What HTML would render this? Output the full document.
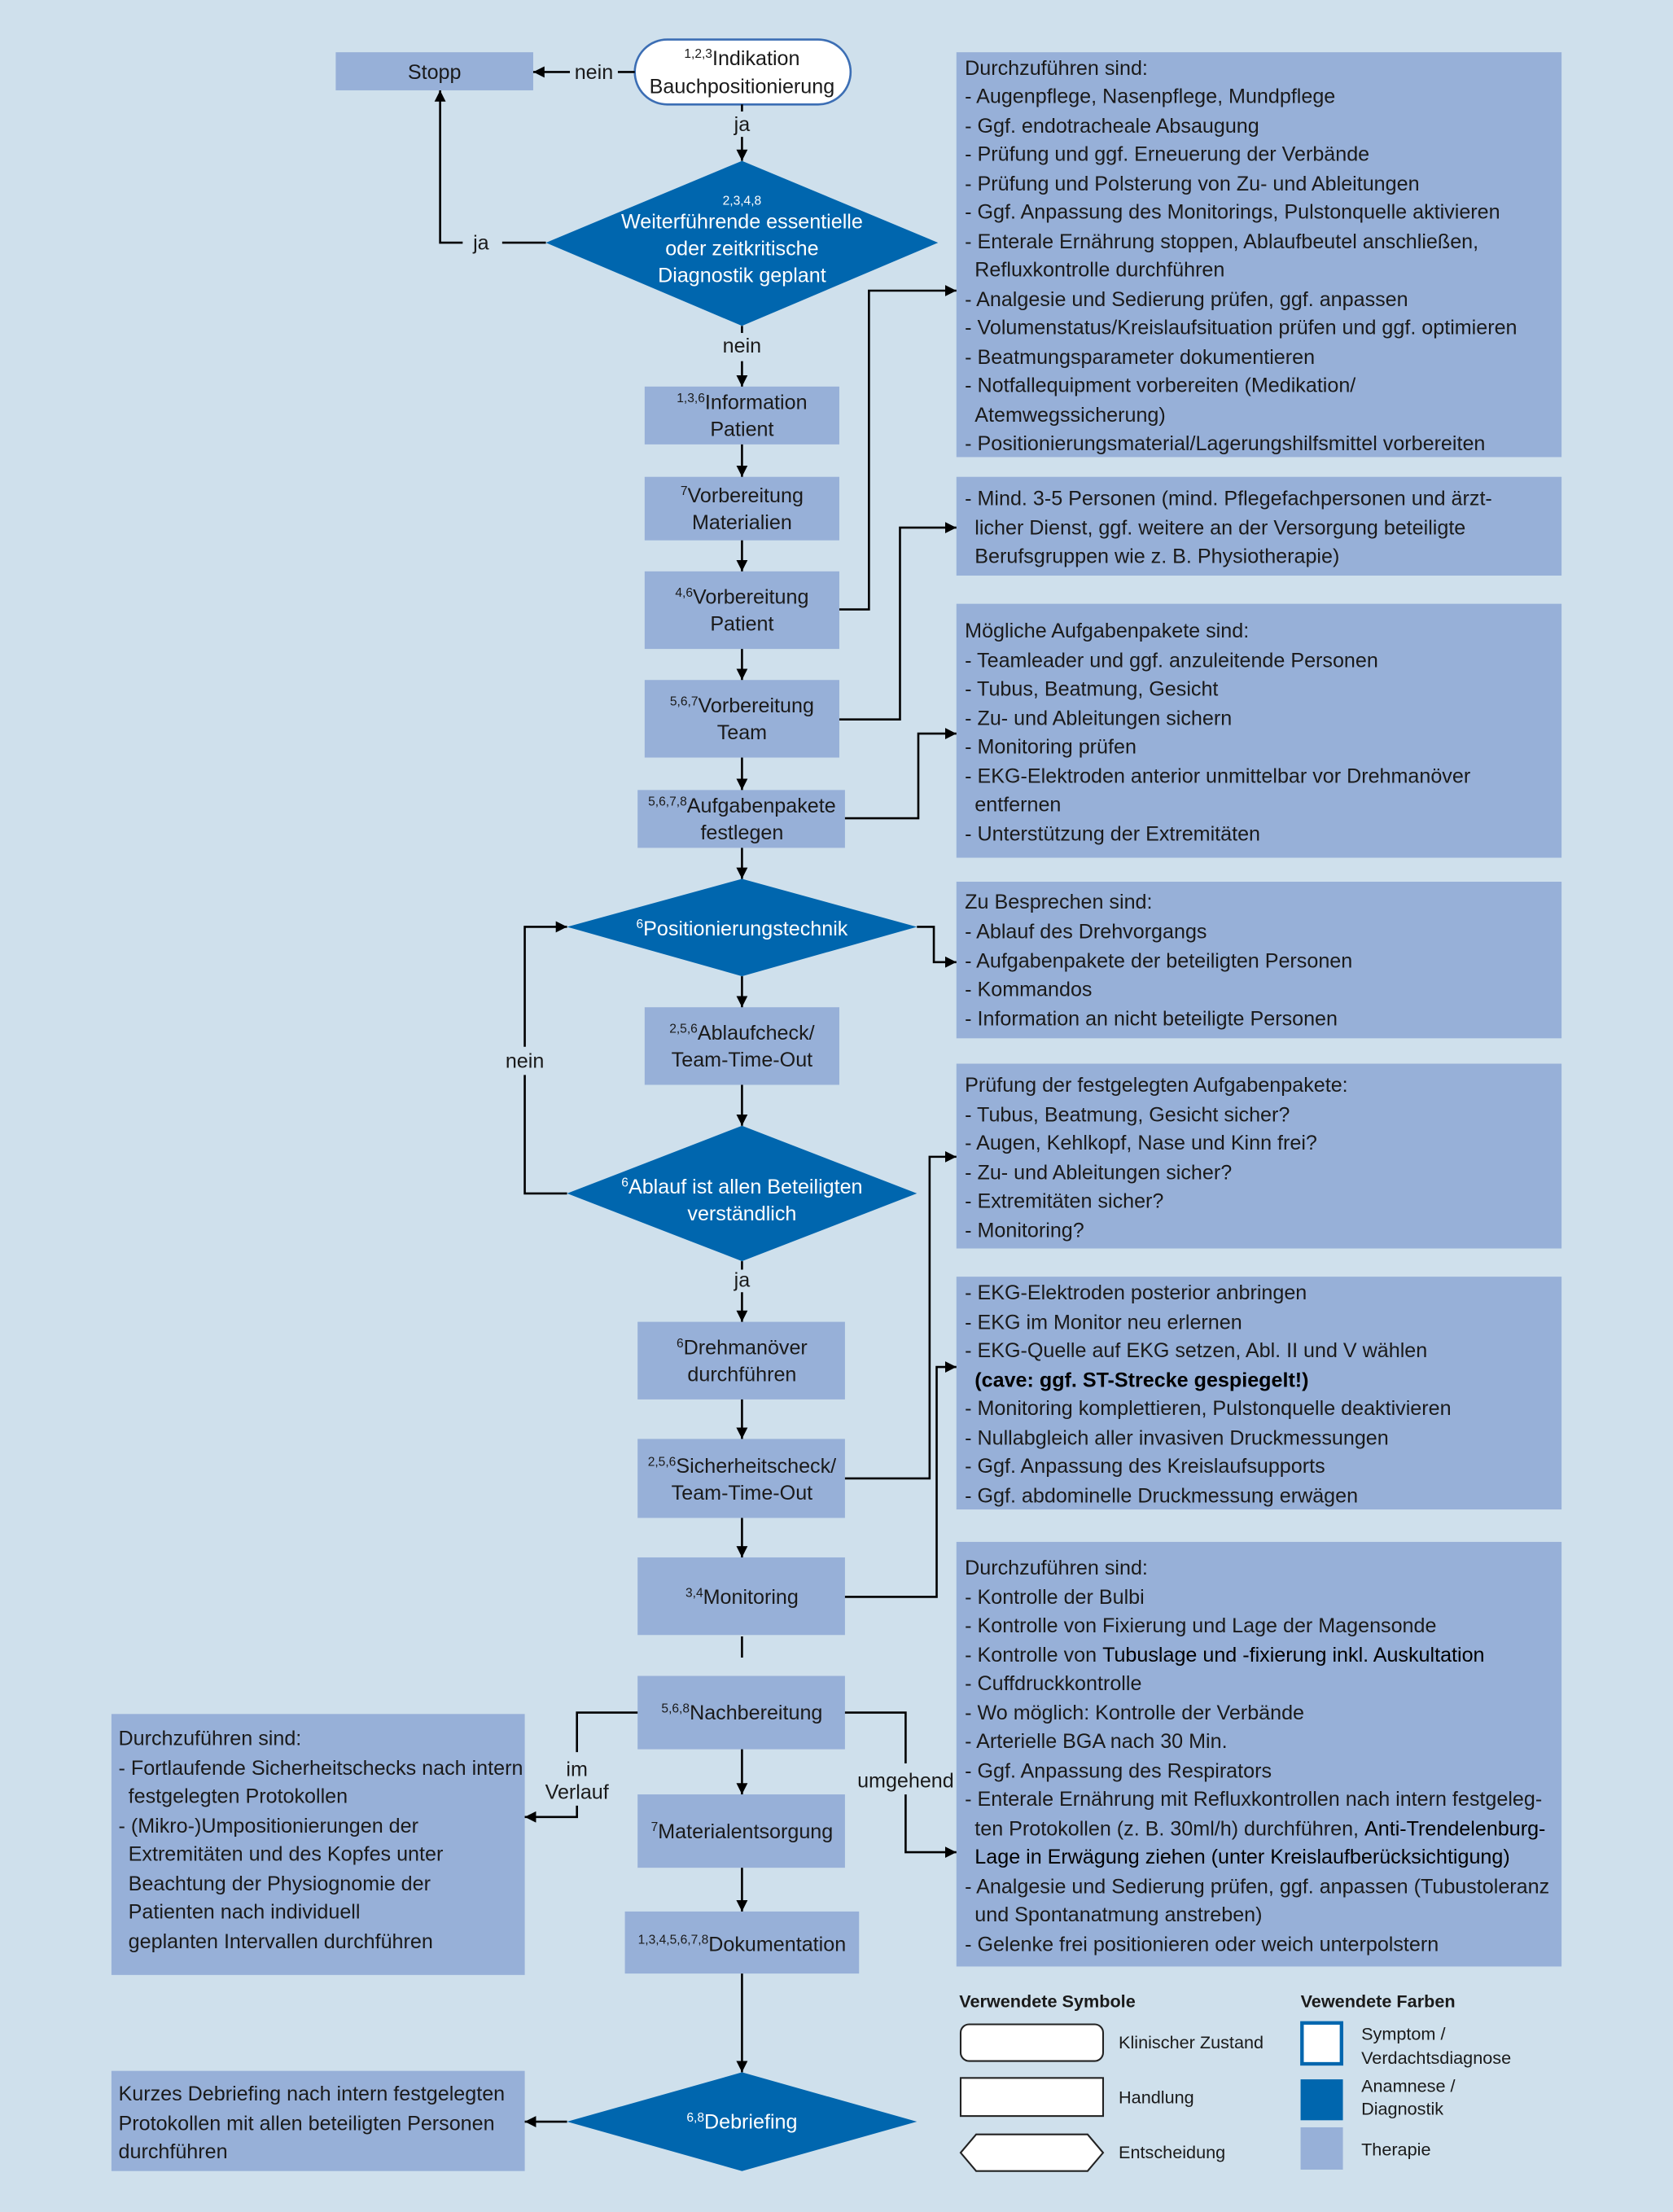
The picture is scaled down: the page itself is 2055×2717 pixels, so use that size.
<!DOCTYPE html>
<html><head><meta charset="utf-8"><style>
html,body{margin:0;padding:0;background:#cfe0ec;}
svg{display:block;}
text{font-family:"Liberation Sans Narrow","Liberation Sans",sans-serif;font-size:14.5px;fill:#1a1a1a;}
.c{text-anchor:middle;}
.w{fill:#fff;}
.b{fill:#000;font-weight:bold;}
.s{font-size:9px;}
.lg{font-size:12.5px;}
.t{fill:#97b0d8;}
.d{fill:#0066ae;}
.ln{stroke:#000;stroke-width:1.5;fill:none;}
</style></head><body>
<svg width="2055" height="2717" viewBox="0 0 1186 1568" xmlns="http://www.w3.org/2000/svg">
<defs><marker id="a" viewBox="0 0 10 10" refX="10" refY="5" markerWidth="8" markerHeight="8" orient="auto" markerUnits="userSpaceOnUse"><path d="M0,0L10,5L0,10z" fill="#000"/></marker></defs>
<rect width="1186" height="1568" fill="#cfe0ec"/>

<!-- right boxes -->
<rect class="t" x="678" y="37" width="429" height="287"/>
<rect class="t" x="678" y="338" width="429" height="70"/>
<rect class="t" x="678" y="428" width="429" height="180"/>
<rect class="t" x="678" y="625" width="429" height="111"/>
<rect class="t" x="678" y="754" width="429" height="131"/>
<rect class="t" x="678" y="905" width="429" height="165"/>
<rect class="t" x="678" y="1093" width="429" height="301"/>
<rect class="t" x="79" y="1215" width="293" height="185"/>
<rect class="t" x="79" y="1468" width="293" height="71"/>

<g>
<text x="684" y="53">Durchzuführen sind:</text>
<text x="684" y="73">- Augenpflege, Nasenpflege, Mundpflege</text>
<text x="684" y="94">- Ggf. endotracheale Absaugung</text>
<text x="684" y="114">- Prüfung und ggf. Erneuerung der Verbände</text>
<text x="684" y="135">- Prüfung und Polsterung von Zu- und Ableitungen</text>
<text x="684" y="155">- Ggf. Anpassung des Monitorings, Pulstonquelle aktivieren</text>
<text x="684" y="176">- Enterale Ernährung stoppen, Ablaufbeutel anschließen,</text>
<text x="691" y="196">Refluxkontrolle durchführen</text>
<text x="684" y="217">- Analgesie und Sedierung prüfen, ggf. anpassen</text>
<text x="684" y="237">- Volumenstatus/Kreislaufsituation prüfen und ggf. optimieren</text>
<text x="684" y="258">- Beatmungsparameter dokumentieren</text>
<text x="684" y="278">- Notfallequipment vorbereiten (Medikation/</text>
<text x="691" y="299">Atemwegssicherung)</text>
<text x="684" y="319">- Positionierungsmaterial/Lagerungshilfsmittel vorbereiten</text>

<text x="684" y="358">- Mind. 3-5 Personen (mind. Pflegefachpersonen und ärzt-</text>
<text x="691" y="379">licher Dienst, ggf. weitere an der Versorgung beteiligte</text>
<text x="691" y="399">Berufsgruppen wie z. B. Physiotherapie)</text>

<text x="684" y="452">Mögliche Aufgabenpakete sind:</text>
<text x="684" y="473">- Teamleader und ggf. anzuleitende Personen</text>
<text x="684" y="493">- Tubus, Beatmung, Gesicht</text>
<text x="684" y="514">- Zu- und Ableitungen sichern</text>
<text x="684" y="534">- Monitoring prüfen</text>
<text x="684" y="555">- EKG-Elektroden anterior unmittelbar vor Drehmanöver</text>
<text x="691" y="575">entfernen</text>
<text x="684" y="596">- Unterstützung der Extremitäten</text>

<text x="684" y="644">Zu Besprechen sind:</text>
<text x="684" y="665">- Ablauf des Drehvorgangs</text>
<text x="684" y="686">- Aufgabenpakete der beteiligten Personen</text>
<text x="684" y="706">- Kommandos</text>
<text x="684" y="727">- Information an nicht beteiligte Personen</text>

<text x="684" y="774">Prüfung der festgelegten Aufgabenpakete:</text>
<text x="684" y="795">- Tubus, Beatmung, Gesicht sicher?</text>
<text x="684" y="815">- Augen, Kehlkopf, Nase und Kinn frei?</text>
<text x="684" y="836">- Zu- und Ableitungen sicher?</text>
<text x="684" y="856">- Extremitäten sicher?</text>
<text x="684" y="877">- Monitoring?</text>

<text x="684" y="921">- EKG-Elektroden posterior anbringen</text>
<text x="684" y="942">- EKG im Monitor neu erlernen</text>
<text x="684" y="962">- EKG-Quelle auf EKG setzen, Abl. II und V wählen</text>
<text x="691" y="983" class="b">(cave: ggf. ST-Strecke gespiegelt!)</text>
<text x="684" y="1003">- Monitoring komplettieren, Pulstonquelle deaktivieren</text>
<text x="684" y="1024">- Nullabgleich aller invasiven Druckmessungen</text>
<text x="684" y="1044">- Ggf. Anpassung des Kreislaufsupports</text>
<text x="684" y="1065">- Ggf. abdominelle Druckmessung erwägen</text>

<text x="684" y="1116">Durchzuführen sind:</text>
<text x="684" y="1137">- Kontrolle der Bulbi</text>
<text x="684" y="1157">- Kontrolle von Fixierung und Lage der Magensonde</text>
<text x="684" y="1178">- Kontrolle von <tspan style="fill:#000">Tubuslage und -fixierung inkl. Auskultation</tspan></text>
<text x="684" y="1198">- Cuffdruckkontrolle</text>
<text x="684" y="1219">- Wo möglich: Kontrolle der Verbände</text>
<text x="684" y="1239">- Arterielle BGA nach 30 Min.</text>
<text x="684" y="1260">- Ggf. Anpassung des Respirators</text>
<text x="684" y="1280">- Enterale Ernährung mit Refluxkontrollen nach intern festgeleg-</text>
<text x="691" y="1301">ten Protokollen (z. B. 30ml/h) durchführen, <tspan style="fill:#000">Anti-Trendelenburg-</tspan></text>
<text x="691" y="1321" style="fill:#000">Lage in Erwägung ziehen (unter Kreislaufberücksichtigung)</text>
<text x="684" y="1342">- Analgesie und Sedierung prüfen, ggf. anpassen (Tubustoleranz</text>
<text x="691" y="1362">und Spontanatmung anstreben)</text>
<text x="684" y="1383">- Gelenke frei positionieren oder weich unterpolstern</text>

<text x="84" y="1237">Durchzuführen sind:</text>
<text x="84" y="1258">- Fortlaufende Sicherheitschecks nach intern</text>
<text x="91" y="1278">festgelegten Protokollen</text>
<text x="84" y="1299">- (Mikro-)Umpositionierungen der</text>
<text x="91" y="1319">Extremitäten und des Kopfes unter</text>
<text x="91" y="1340">Beachtung der Physiognomie der</text>
<text x="91" y="1360">Patienten nach individuell</text>
<text x="91" y="1381">geplanten Intervallen durchführen</text>

<text x="84" y="1489">Kurzes Debriefing nach intern festgelegten</text>
<text x="84" y="1510">Protokollen mit allen beteiligten Personen</text>
<text x="84" y="1530">durchführen</text>
</g>

<!-- center nodes -->
<rect class="t" x="238" y="37" width="140" height="27"/>
<text class="c" x="308" y="56">Stopp</text>
<rect x="450" y="28" width="153" height="46" rx="23" fill="#fff" stroke="#3c6eb4" stroke-width="1.5"/>
<text class="c" x="526" y="46"><tspan class="s" dy="-5">1,2,3</tspan><tspan dy="5">Indikation</tspan></text>
<text class="c" x="526" y="66">Bauchpositionierung</text>

<polygon class="d" points="526,114 665,172 526,231 387,172"/>
<text class="c w s" x="526" y="145">2,3,4,8</text>
<text class="c w" x="526" y="162">Weiterführende essentielle</text>
<text class="c w" x="526" y="181">oder zeitkritische</text>
<text class="c w" x="526" y="200">Diagnostik geplant</text>

<rect class="t" x="457" y="274" width="138" height="41"/>
<text class="c" x="526" y="290"><tspan class="s" dy="-5">1,3,6</tspan><tspan dy="5">Information</tspan></text>
<text class="c" x="526" y="309">Patient</text>
<rect class="t" x="457" y="338" width="138" height="45"/>
<text class="c" x="526" y="356"><tspan class="s" dy="-5">7</tspan><tspan dy="5">Vorbereitung</tspan></text>
<text class="c" x="526" y="375">Materialien</text>
<rect class="t" x="457" y="405" width="138" height="55"/>
<text class="c" x="526" y="428"><tspan class="s" dy="-5">4,6</tspan><tspan dy="5">Vorbereitung</tspan></text>
<text class="c" x="526" y="447">Patient</text>
<rect class="t" x="457" y="482" width="138" height="55"/>
<text class="c" x="526" y="505"><tspan class="s" dy="-5">5,6,7</tspan><tspan dy="5">Vorbereitung</tspan></text>
<text class="c" x="526" y="524">Team</text>
<rect class="t" x="452" y="560" width="147" height="41"/>
<text class="c" x="526" y="576"><tspan class="s" dy="-5">5,6,7,8</tspan><tspan dy="5">Aufgabenpakete</tspan></text>
<text class="c" x="526" y="595">festlegen</text>

<polygon class="d" points="526,623 650,657 526,692 402,657"/>
<text class="c w" x="526" y="663"><tspan class="s" dy="-5">6</tspan><tspan dy="5">Positionierungstechnik</tspan></text>

<rect class="t" x="457" y="714" width="138" height="55"/>
<text class="c" x="526" y="737"><tspan class="s" dy="-5">2,5,6</tspan><tspan dy="5">Ablaufcheck/</tspan></text>
<text class="c" x="526" y="756">Team-Time-Out</text>

<polygon class="d" points="526,798 650,846 526,894 402,846"/>
<text class="c w" x="526" y="846"><tspan class="s" dy="-5">6</tspan><tspan dy="5">Ablauf ist allen Beteiligten</tspan></text>
<text class="c w" x="526" y="865">verständlich</text>

<rect class="t" x="452" y="937" width="147" height="55"/>
<text class="c" x="526" y="960"><tspan class="s" dy="-5">6</tspan><tspan dy="5">Drehmanöver</tspan></text>
<text class="c" x="526" y="979">durchführen</text>
<rect class="t" x="452" y="1020" width="147" height="56"/>
<text class="c" x="526" y="1044"><tspan class="s" dy="-5">2,5,6</tspan><tspan dy="5">Sicherheitscheck/</tspan></text>
<text class="c" x="526" y="1063">Team-Time-Out</text>
<rect class="t" x="452" y="1104" width="147" height="55"/>
<text class="c" x="526" y="1137"><tspan class="s" dy="-5">3,4</tspan><tspan dy="5">Monitoring</tspan></text>
<rect class="t" x="452" y="1188" width="147" height="52"/>
<text class="c" x="526" y="1219"><tspan class="s" dy="-5">5,6,8</tspan><tspan dy="5">Nachbereitung</tspan></text>
<rect class="t" x="452" y="1272" width="147" height="52"/>
<text class="c" x="526" y="1303"><tspan class="s" dy="-5">7</tspan><tspan dy="5">Materialentsorgung</tspan></text>
<rect class="t" x="443" y="1355" width="166" height="44"/>
<text class="c" x="526" y="1383"><tspan class="s" dy="-5">1,3,4,5,6,7,8</tspan><tspan dy="5">Dokumentation</tspan></text>

<polygon class="d" points="526,1469 650,1504 526,1539 402,1504"/>
<text class="c w" x="526" y="1509"><tspan class="s" dy="-5">6,8</tspan><tspan dy="5">Debriefing</tspan></text>

<!-- connectors -->
<g class="ln">
<path d="M450,51H438"/><path d="M404,51H378" marker-end="url(#a)"/>
<path d="M526,74V79"/><path d="M526,97V114" marker-end="url(#a)"/>
<path d="M387,172H356"/><path d="M328,172H312V64" marker-end="url(#a)"/>
<path d="M526,231V236"/><path d="M526,256V274" marker-end="url(#a)"/>
<path d="M526,315V338" marker-end="url(#a)"/>
<path d="M526,383V405" marker-end="url(#a)"/>
<path d="M526,460V482" marker-end="url(#a)"/>
<path d="M526,537V560" marker-end="url(#a)"/>
<path d="M526,601V623" marker-end="url(#a)"/>
<path d="M526,692V714" marker-end="url(#a)"/>
<path d="M526,769V798" marker-end="url(#a)"/>
<path d="M526,894V900"/><path d="M526,916V937" marker-end="url(#a)"/>
<path d="M526,992V1020" marker-end="url(#a)"/>
<path d="M526,1076V1104" marker-end="url(#a)"/>
<path d="M526,1160V1175"/>
<path d="M526,1240V1272" marker-end="url(#a)"/>
<path d="M526,1324V1355" marker-end="url(#a)"/>
<path d="M526,1399V1469" marker-end="url(#a)"/>
<path d="M402,1504H372" marker-end="url(#a)"/>
<path d="M595,432H616V206H678" marker-end="url(#a)"/>
<path d="M595,510H638V374H678" marker-end="url(#a)"/>
<path d="M599,580H651V520H678" marker-end="url(#a)"/>
<path d="M650,657H662V682H678" marker-end="url(#a)"/>
<path d="M402,846H372V762"/><path d="M372,742V657H402" marker-end="url(#a)"/>
<path d="M599,1048H659V820H678" marker-end="url(#a)"/>
<path d="M599,1132H664V969H678" marker-end="url(#a)"/>
<path d="M452,1214H409V1242"/><path d="M409,1280V1288H372" marker-end="url(#a)"/>
<path d="M599,1214H642V1250"/><path d="M642,1272V1313H678" marker-end="url(#a)"/>
</g>
<text class="c" x="421" y="56">nein</text>
<text class="c" x="526" y="93">ja</text>
<text class="c" x="341" y="177">ja</text>
<text class="c" x="526" y="250">nein</text>
<text class="c" x="372" y="757">nein</text>
<text class="c" x="526" y="912">ja</text>
<text class="c" x="409" y="1259">im</text>
<text class="c" x="409" y="1275">Verlauf</text>
<text class="c" x="642" y="1267">umgehend</text>

<!-- legend -->
<text class="lg" x="680" y="1423" style="font-weight:bold">Verwendete Symbole</text>
<rect x="681" y="1435" width="101" height="26" rx="6" fill="#fff" stroke="#222" stroke-width="1.2"/>
<rect x="681" y="1473" width="101" height="27" fill="#fff" stroke="#222" stroke-width="1.2"/>
<polygon points="692,1513 771,1513 782,1526 771,1539 692,1539 681,1526" fill="#fff" stroke="#222" stroke-width="1.2"/>
<text class="lg" x="793" y="1452">Klinischer Zustand</text>
<text class="lg" x="793" y="1491">Handlung</text>
<text class="lg" x="793" y="1530">Entscheidung</text>
<text class="lg" x="922" y="1423" style="font-weight:bold">Vewendete Farben</text>
<rect x="923" y="1434" width="28" height="29" fill="#fff" stroke="#0066ae" stroke-width="2.5"/>
<rect class="d" x="922" y="1474" width="30" height="29"/>
<rect class="t" x="922" y="1508" width="30" height="30"/>
<text class="lg" x="965" y="1446">Symptom /</text>
<text class="lg" x="965" y="1463">Verdachtsdiagnose</text>
<text class="lg" x="965" y="1483">Anamnese /</text>
<text class="lg" x="965" y="1499">Diagnostik</text>
<text class="lg" x="965" y="1528">Therapie</text>
</svg>
</body></html>
